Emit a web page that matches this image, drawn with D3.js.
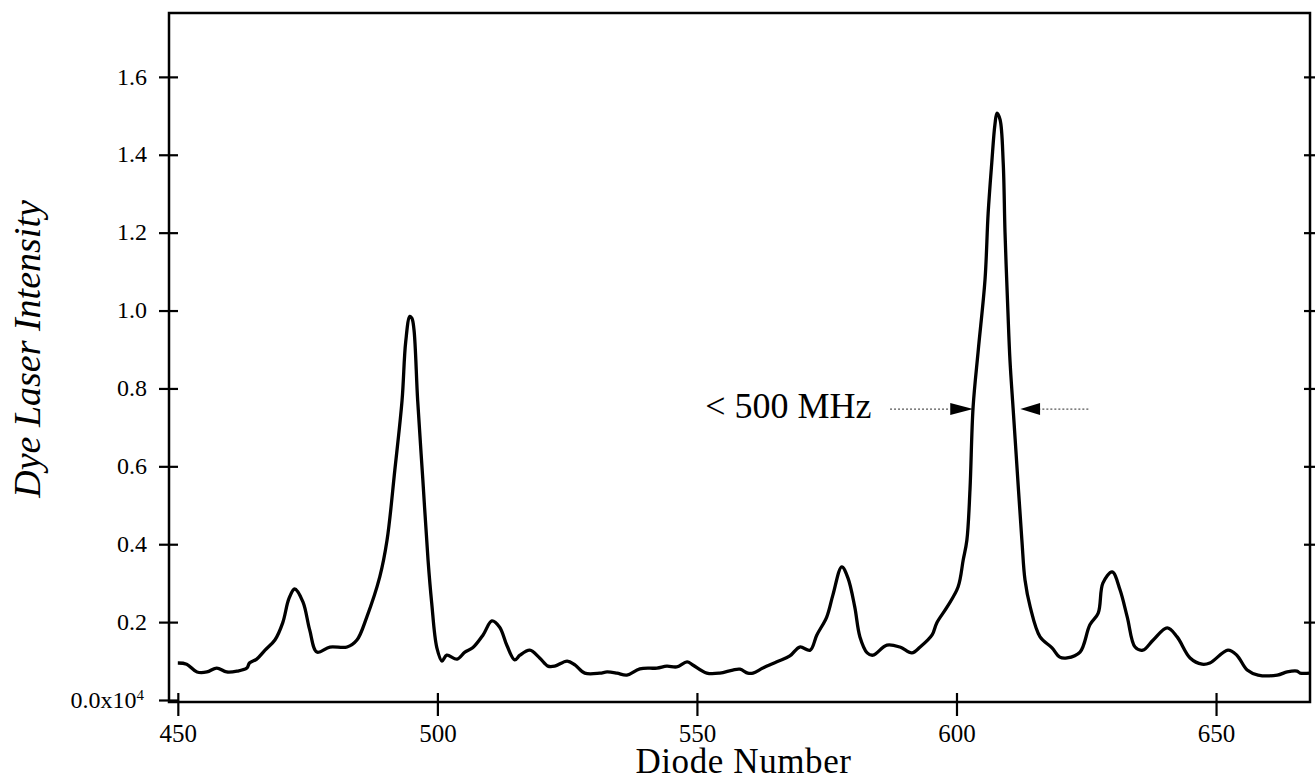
<!DOCTYPE html>
<html lang="en">
  <head>
    <meta charset="utf-8" />
    <title>Dye Laser Intensity</title>
    <style>
      body { margin: 0; background: #fff; }
      svg text { font-family: "Liberation Serif", "Times New Roman", serif; fill: #000; }
    </style>
  </head>
  <body>
    <svg id="chart" width="1316" height="780"></svg>
    <script src="https://d3js.org/d3.v7.min.js"></script>
    <script>
      // trace: diode number vs intensity (x10^4)
      const diode = [
        450.0, 451.7, 453.7, 455.6, 457.5, 459.4, 461.4, 463.3, 463.8, 465.2,
        466.8, 468.7, 470.2, 471.4, 472.5, 474.1, 475.4, 476.8, 479.3, 482.6,
        484.5, 486.4, 488.9, 490.3, 491.8, 493.2, 493.9, 494.7, 495.1, 495.5,
        496.2, 497.2, 498.2, 498.9, 499.9, 500.9, 501.8, 503.8, 505.3, 506.8,
        508.8, 510.5, 512.0, 513.4, 514.9, 515.9, 517.8, 519.7, 521.3, 522.6,
        525.0, 526.5, 528.4, 531.3, 532.7, 534.6, 536.5, 539.0, 542.3, 544.2,
        546.1, 548.1, 549.2, 551.9, 554.4, 556.9, 558.3, 559.8, 560.8, 562.7,
        565.4, 567.9, 569.8, 571.8, 573.1, 575.0, 576.2, 577.9, 579.1, 580.4,
        581.4, 582.8, 583.9, 586.6, 589.1, 591.4, 593.0, 595.3, 596.2, 598.2,
        600.3, 601.3, 602.0, 602.6, 603.2, 604.2, 605.5, 606.1, 606.8, 607.4,
        607.8, 608.4, 609.0, 609.35, 609.9, 610.3, 610.9, 611.3, 612.6, 613.2,
        614.2, 616.1, 618.4, 619.9, 621.3, 623.8, 625.7, 627.3, 628.2, 630.0,
        631.5, 632.9, 634.4, 635.9, 637.9, 640.6, 642.5, 645.0, 647.3, 648.8,
        652.3, 654.0, 656.0, 658.1, 661.8, 663.7, 665.6, 666.2, 668.1
      ];
      const intensity = [
        0.095, 0.092, 0.072, 0.072, 0.082, 0.072, 0.074, 0.082, 0.095, 0.105,
        0.128, 0.154, 0.198, 0.26, 0.285, 0.252, 0.18, 0.123, 0.136, 0.136,
        0.154, 0.213, 0.316, 0.41, 0.59, 0.77, 0.92, 0.985, 0.98, 0.95,
        0.77, 0.565, 0.36, 0.25, 0.134, 0.1, 0.115, 0.105, 0.123, 0.134,
        0.167, 0.203, 0.187, 0.14, 0.103, 0.115, 0.128, 0.108, 0.087, 0.087,
        0.1, 0.09, 0.069, 0.069, 0.072, 0.069, 0.064, 0.08, 0.082, 0.087,
        0.085, 0.098, 0.09, 0.069, 0.069, 0.077, 0.079, 0.069, 0.069, 0.082,
        0.098, 0.113, 0.136, 0.128, 0.167, 0.213, 0.27, 0.342, 0.313, 0.239,
        0.162, 0.121, 0.115, 0.141, 0.136, 0.121, 0.136, 0.167, 0.198, 0.239,
        0.29, 0.36, 0.41, 0.54, 0.752, 0.899, 1.08, 1.25, 1.38, 1.477,
        1.507, 1.49, 1.38, 1.2, 1.0, 0.873, 0.75, 0.67, 0.41, 0.308,
        0.239, 0.162, 0.134, 0.11, 0.108, 0.123, 0.193, 0.223, 0.3, 0.329,
        0.283, 0.213, 0.136, 0.128, 0.154, 0.185, 0.162, 0.108, 0.092, 0.095,
        0.128, 0.115, 0.077, 0.064, 0.064, 0.072, 0.074, 0.069, 0.069
      ];
      const xTicks = [450, 500, 550, 600, 650];
      const yTicks = [0, 0.2, 0.4, 0.6, 0.8, 1.0, 1.2, 1.4, 1.6];

      // annotation: label and the two arrows (diode values: line start, head base, tip)
      const noteText = "< 500 MHz";
      const noteAt = [551.6, 0.724];
      const arrowLeft = [587.2, 598.8, 603.2];
      const arrowRight = [625.4, 616.1, 612.3];
      const arrowY = 0.747;

      var svg = d3.select("#chart");
      var plotLeft = 169, plotRight = 1310, plotTop = 13, plotBottom = 700;

      var x = d3.scaleLinear().domain([448.3, 668.1]).range([plotLeft, plotRight]);
      var y = d3.scaleLinear().domain([0, 1.764]).range([plotBottom, plotTop]);

      // frame
      svg.append("rect")
        .attr("x", plotLeft).attr("y", plotTop)
        .attr("width", plotRight - plotLeft).attr("height", plotBottom + 2 - plotTop)
        .attr("fill", "none").attr("stroke", "#000").attr("stroke-width", 2.5);

      // left axis, ticks crossing the line
      var yAxis = svg.append("g")
        .attr("transform", "translate(" + plotLeft + ",0)")
        .call(d3.axisLeft(y).tickValues(yTicks).tickSize(10).tickFormat(d3.format(".1f")));
      yAxis.select(".domain").remove();
      yAxis.selectAll(".tick line").attr("x1", 9).attr("stroke-width", 2.2);
      yAxis.selectAll(".tick text")
        .attr("x", -22).attr("dy", "0.3em")
        .style("font-size", "24px");
      yAxis.selectAll(".tick").filter((d) => d === 0).select("text")
        .text("0.0x10")
        .attr("x", -25)
        .attr("dy", "0.33em")
        .append("tspan").text("4")
        .attr("dy", "-0.55em").style("font-size", "15px");

      // right axis, short ticks
      var yAxisR = svg.append("g")
        .attr("transform", "translate(" + plotRight + ",0)")
        .call(d3.axisRight(y).tickValues(yTicks.slice(1)).tickSize(5).tickFormat(""));
      yAxisR.select(".domain").remove();
      yAxisR.selectAll(".tick line").attr("x1", -6).attr("stroke-width", 2.2);

      // bottom axis
      var xAxis = svg.append("g")
        .attr("transform", "translate(0," + (plotBottom + 2) + ")")
        .call(d3.axisBottom(x).tickValues(xTicks).tickSize(14).tickFormat(d3.format("d")));
      xAxis.select(".domain").remove();
      xAxis.selectAll(".tick line").attr("y1", -9).attr("stroke-width", 2.2);
      xAxis.selectAll(".tick text")
        .attr("y", 40).attr("dy", 0)
        .style("font-size", "25px");

      // axis titles
      svg.append("text")
        .attr("x", (plotLeft + plotRight) / 2 + 4).attr("y", 773)
        .attr("text-anchor", "middle")
        .style("font-size", "35px")
        .style("letter-spacing", "0.6px")
        .text("Diode Number");

      svg.append("text")
        .attr("transform", "translate(40,349) rotate(-90)")
        .attr("text-anchor", "middle")
        .style("font-size", "38px").style("font-style", "italic")
        .text("Dye Laser Intensity");

      // trace
      var line = d3.line()
        .x((d, i) => x(diode[i]))
        .y((d) => y(d))
        .curve(d3.curveCatmullRom.alpha(0.5));

      svg.append("path")
        .datum(intensity)
        .attr("d", line)
        .attr("fill", "none")
        .attr("stroke", "#000")
        .attr("stroke-width", 3.3)
        .attr("stroke-linejoin", "round");

      // annotation
      svg.append("text")
        .attr("x", x(noteAt[0])).attr("y", y(noteAt[1]))
        .style("font-size", "36px")
        .text(noteText);

      function arrow(a) {
        var yy = y(arrowY);
        svg.append("line")
          .attr("x1", x(a[0])).attr("x2", x(a[1]))
          .attr("y1", yy).attr("y2", yy)
          .attr("stroke", "#555").attr("stroke-width", 1.2)
          .attr("stroke-dasharray", "2,2");
        svg.append("path")
          .attr("d", "M" + x(a[2]) + "," + yy +
            "L" + x(a[1]) + "," + (yy - 6) +
            "L" + x(a[1]) + "," + (yy + 6) + "Z")
          .attr("fill", "#000");
      }
      arrow(arrowLeft);
      arrow(arrowRight);
    </script>
  </body>
</html>
